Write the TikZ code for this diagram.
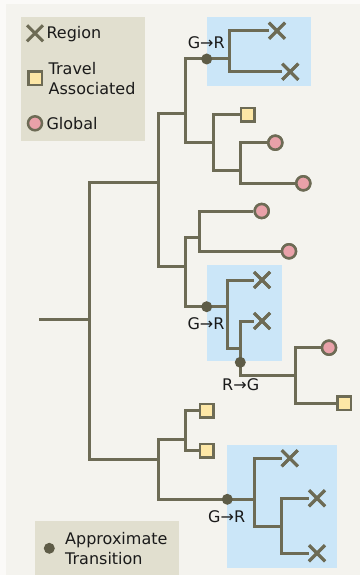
\documentclass[tikz,border=0pt]{standalone}
\usepackage{fontspec}
\setmainfont{DejaVu Sans}
\usetikzlibrary{shapes.misc}
\definecolor{bgc}{HTML}{F4F3EE}
\definecolor{legc}{HTML}{E1DFCF}
\definecolor{bluec}{HTML}{CBE6F8}
\definecolor{linec}{HTML}{6D6B55}
\definecolor{dotc}{HTML}{5E5C47}
\definecolor{yelc}{HTML}{FDE7A6}
\definecolor{pinkc}{HTML}{E9A1A9}
\definecolor{txtc}{HTML}{1A1A1A}
\tikzset{
  branch/.style={draw=linec, line width=3pt},
  regionmark/.style={cross out, draw=linec, line width=3pt, minimum size=13pt, inner sep=0pt},
  travelmark/.style={rectangle, draw=linec, fill=yelc, line width=2.5pt, minimum size=13.5pt, inner sep=0pt},
  globalmark/.style={circle, draw=linec, fill=pinkc, line width=2.5pt, minimum size=14pt, inner sep=0pt},
  transdot/.style={circle, fill=dotc, minimum size=11pt, inner sep=0pt},
  lbl/.style={text=txtc, font=\fontsize{16}{20}\selectfont, inner sep=0pt},
  legtxt/.style={lbl, anchor=base west, align=left},
  bluebox/.style={fill=bluec},
  legbox/.style={fill=legc}
}
\begin{document}
\begin{tikzpicture}[x=1pt,y=-1pt]
\useasboundingbox (0,0) rectangle (360,575);
\fill[white!60!bgc] (0,0) rectangle (360,575);
\fill[bgc] (6,4) rectangle (360,575);
% highlight boxes
\fill[bluebox] (206.7,16.7) rectangle (311,85.7);
\fill[bluebox] (206.7,265) rectangle (282.3,361);
\fill[bluebox] (227.3,445) rectangle (337.3,568.3);
% legends
\fill[legbox] (20.7,16.7) rectangle (145,140.7);
\fill[legbox] (35,520.7) rectangle (179,575);
\node[regionmark] (lx) at (35,33.3) {};
\node[legtxt] (lxt) at (46.3,39) {Region};
\node[travelmark] (lsq) at (35,78.3) {};
\node[legtxt] (lsqt) at (48.5,94.3) {Travel\\Associated};
\node[globalmark] (lci) at (35,123.3) {};
\node[legtxt] (lcit) at (46.3,129.3) {Global};
\node[transdot] (ldot) at (49.3,548.3) {};
\node[legtxt] (ldott) at (65,564.3) {Approximate\\Transition};

% internal branch points
\coordinate (r0) at (39,319.3);
\coordinate (r) at (89,319.3);
\coordinate (A) at (158.3,182.3);
\coordinate (A1) at (185,113.3);
\coordinate (C1) at (229.3,59);
\coordinate (C2) at (213.3,142.7);
\coordinate (C3) at (240.7,170);
\coordinate (A2) at (185,266);
\coordinate (C4) at (199.3,237.3);
\coordinate (C5) at (227.3,306.7);
\coordinate (C6) at (240,348.3);
\coordinate (C7) at (295.7,375.7);
\coordinate (B) at (158.3,459);
\coordinate (B1) at (185.7,439);
\coordinate (B2) at (254.3,499.3);
\coordinate (B3) at (281.7,526);

% leaves
\node[regionmark] (x1) at (277,30.7) {};
\node[regionmark] (x2) at (290.3,71.7) {};
\node[travelmark] (s1) at (247.7,115) {};
\node[globalmark] (g1) at (275.3,142.7) {};
\node[globalmark] (g2) at (303.3,183.3) {};
\node[globalmark] (g3) at (261.7,211) {};
\node[globalmark] (g4) at (289,251.3) {};
\node[regionmark] (x3) at (262,280) {};
\node[regionmark] (x4) at (262,321) {};
\node[globalmark] (g5) at (329,347.7) {};
\node[travelmark] (s2) at (344.3,403.3) {};
\node[travelmark] (s3) at (206.7,410.5) {};
\node[travelmark] (s4) at (206.7,450.7) {};
\node[regionmark] (x5) at (289.7,458.3) {};
\node[regionmark] (x6) at (317,498.3) {};
\node[regionmark] (x7) at (317,553.3) {};

% tree
\draw[branch] (r0) -- (r);
\draw[branch] (r) |- (A);
\draw[branch] (r) |- (B);
\draw[branch] (A) |- (A1);
\draw[branch] (A) |- (A2);
\draw[branch] (A1) |- (C1);
\draw[branch] (A1) |- (C2);
\draw[branch] (C1) |- (x1.west);
\draw[branch] (C1) |- (x2.west);
\draw[branch] (C2) |- (s1.west);
\draw[branch] (C2) |- (C3);
\draw[branch] (C3) |- (g1.west);
\draw[branch] (C3) |- (g2.west);
\draw[branch] (A2) |- (C4);
\draw[branch] (A2) |- (C5);
\draw[branch] (C4) |- (g3.west);
\draw[branch] (C4) |- (g4.west);
\draw[branch] (C5) |- (x3.west);
\draw[branch] (C5) |- (C6);
\draw[branch] (C6) |- (x4.west);
\draw[branch] (C6) |- (C7);
\draw[branch] (C7) |- (g5.west);
\draw[branch] (C7) |- (s2.west);
\draw[branch] (B) |- (B1);
\draw[branch] (B) |- (B2);
\draw[branch] (B1) |- (s3.west);
\draw[branch] (B1) |- (s4.west);
\draw[branch] (B2) |- (x5.west);
\draw[branch] (B2) |- (B3);
\draw[branch] (B3) |- (x6.west);
\draw[branch] (B3) |- (x7.west);

% redraw leaf marks on top
\node[regionmark] at (x1) {};
\node[regionmark] at (x2) {};
\node[travelmark] at (s1) {};
\node[globalmark] at (g1) {};
\node[globalmark] at (g2) {};
\node[globalmark] at (g3) {};
\node[globalmark] at (g4) {};
\node[regionmark] at (x3) {};
\node[regionmark] at (x4) {};
\node[globalmark] at (g5) {};
\node[travelmark] at (s2) {};
\node[travelmark] at (s3) {};
\node[travelmark] at (s4) {};
\node[regionmark] at (x5) {};
\node[regionmark] at (x6) {};
\node[regionmark] at (x7) {};

% transitions
\node[transdot] (t1) at (206.7,59) {};
\node[transdot] (t2) at (206.7,306.7) {};
\node[transdot] (t3) at (240.3,362.3) {};
\node[transdot] (t4) at (227.3,499.3) {};
\node[lbl] (t1l) at (206.3,42.3) {G→R};
\node[lbl] (t2l) at (206,323.3) {G→R};
\node[lbl] (t3l) at (240.7,385) {R→G};
\node[lbl] (t4l) at (226.7,516.7) {G→R};
\end{tikzpicture}
\end{document}
